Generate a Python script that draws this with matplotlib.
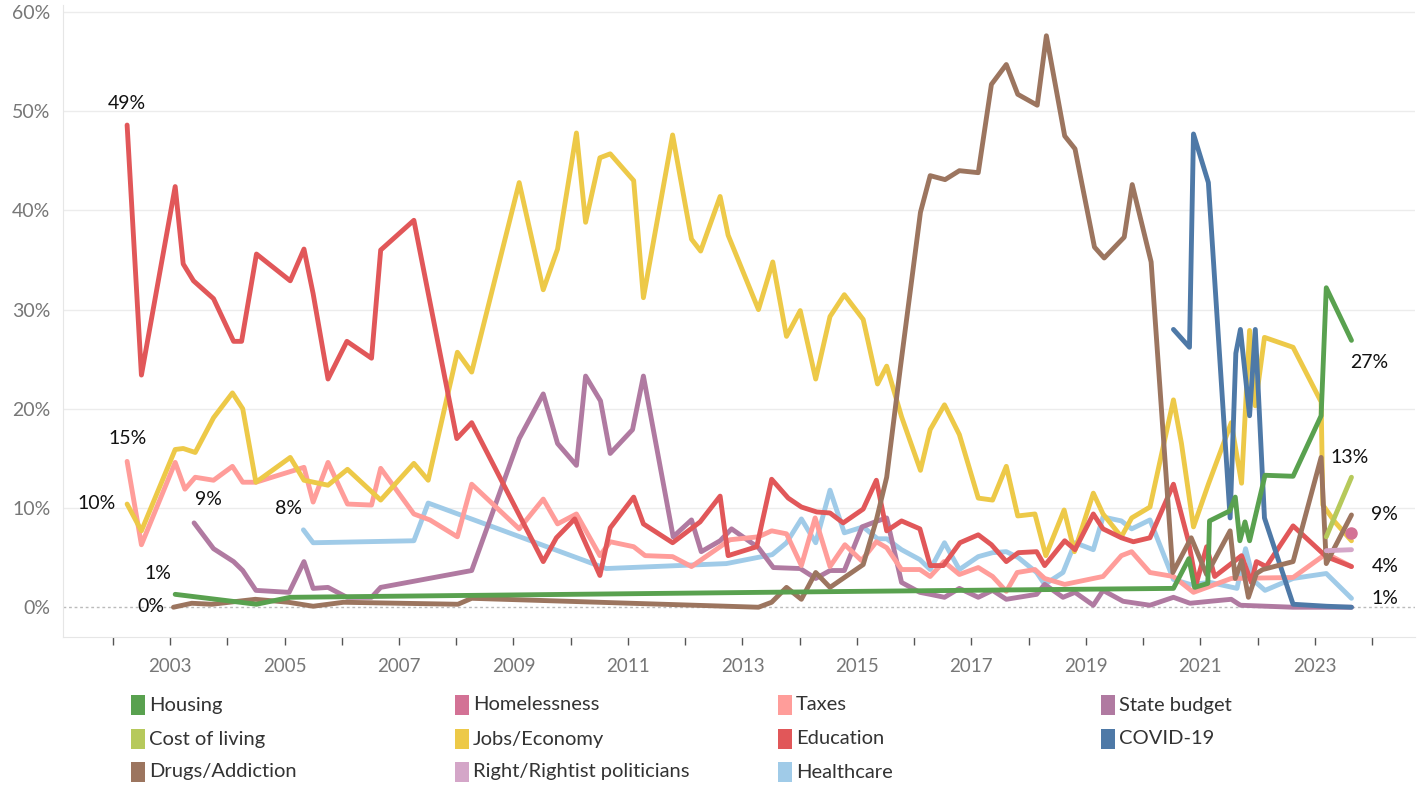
import matplotlib
matplotlib.use("Agg")
import matplotlib.pyplot as plt
from matplotlib.patches import Rectangle

plt.rcParams['font.family'] = ['Lato', 'DejaVu Sans']

# ---- data (share of respondents, %) -------------------------------------
edu_x = [2002.25, 2002.50, 2003.09, 2003.23, 2003.41, 2003.76, 2004.11, 2004.25, 2004.51, 2005.10,
         2005.34, 2005.50, 2005.76, 2006.09, 2006.52, 2006.68, 2007.26, 2008.01, 2008.27, 2009.52,
         2009.75, 2010.07, 2010.51, 2010.69, 2011.10, 2011.27, 2011.78, 2012.26, 2012.61, 2012.75,
         2013.25, 2013.51, 2013.80, 2014.03, 2014.30, 2014.53, 2014.76, 2015.11, 2015.34, 2015.52,
         2015.78, 2016.10, 2016.28, 2016.51, 2016.80, 2017.12, 2017.35, 2017.61, 2017.82, 2018.14,
         2018.28, 2018.63, 2018.81, 2019.13, 2019.30, 2019.62, 2019.83, 2020.12, 2020.53, 2020.79,
         2020.93, 2021.11, 2021.25, 2021.72, 2021.89, 2021.98, 2022.15, 2022.62, 2023.20, 2023.64]
edu_y = [48.6, 23.4, 42.4, 34.6, 32.9, 31.1, 26.8, 26.8, 35.6, 32.9,
         36.1, 31.6, 23.0, 26.8, 25.1, 36.0, 39.0, 17.0, 18.6, 4.6,
         7.0, 8.9, 3.2, 8.0, 11.1, 8.4, 6.5, 8.6, 11.2, 5.2,
         6.1, 12.9, 11.0, 10.1, 9.6, 9.5, 8.5, 9.9, 12.8, 7.7,
         8.7, 7.9, 4.2, 4.2, 6.5, 7.3, 6.3, 4.6, 5.5, 5.6,
         4.2, 6.7, 5.8, 9.4, 7.9, 7.0, 6.6, 7.0, 12.4, 6.7,
         2.4, 6.1, 3.1, 5.2, 2.5, 4.6, 4.1, 8.2, 5.1, 4.1]

jobs_x = [2002.25, 2002.50, 2003.09, 2003.23, 2003.44, 2003.76, 2004.09, 2004.27, 2004.50, 2005.10,
          2005.34, 2005.76, 2006.10, 2006.68, 2007.26, 2007.51, 2008.02, 2008.27, 2009.10, 2009.52,
          2009.77, 2010.10, 2010.26, 2010.51, 2010.69, 2011.10, 2011.27, 2011.78, 2012.11, 2012.27,
          2012.61, 2012.75, 2013.28, 2013.53, 2013.77, 2014.01, 2014.28, 2014.53, 2014.78, 2015.11,
          2015.36, 2015.52, 2015.78, 2016.11, 2016.28, 2016.53, 2016.79, 2017.12, 2017.37, 2017.61,
          2017.81, 2018.11, 2018.30, 2018.62, 2018.80, 2019.13, 2019.30, 2019.62, 2019.80, 2020.12,
          2020.53, 2020.67, 2020.88, 2021.14, 2021.54, 2021.72, 2021.86, 2021.96, 2022.12, 2022.62,
          2023.11, 2023.14, 2023.35, 2023.64]
jobs_y = [10.4, 7.7, 15.9, 16.0, 15.6, 19.1, 21.6, 20.0, 12.6, 15.1,
          12.8, 12.3, 13.9, 10.8, 14.5, 12.8, 25.7, 23.7, 42.8, 32.0,
          36.1, 47.8, 38.8, 45.3, 45.7, 43.0, 31.2, 47.6, 37.1, 35.9,
          41.4, 37.5, 30.0, 34.8, 27.3, 29.9, 23.0, 29.3, 31.5, 29.0,
          22.5, 24.3, 19.2, 13.8, 17.9, 20.4, 17.4, 11.0, 10.8, 14.2,
          9.2, 9.4, 5.2, 9.8, 5.6, 11.5, 9.4, 7.1, 9.0, 10.1,
          20.9, 16.5, 8.1, 12.4, 18.6, 12.5, 27.9, 20.3, 27.2, 26.2,
          20.7, 10.3, 8.6, 6.7]

drugs_x = [2003.06, 2003.38, 2003.73, 2004.49, 2005.07, 2005.50, 2006.03, 2008.03, 2008.27, 2013.28,
           2013.51, 2013.77, 2014.03, 2014.28, 2014.53, 2015.11, 2015.34, 2015.52, 2015.76, 2016.11,
           2016.28, 2016.54, 2016.79, 2017.12, 2017.35, 2017.61, 2017.81, 2018.15, 2018.31, 2018.63,
           2018.81, 2019.15, 2019.32, 2019.67, 2019.81, 2020.14, 2020.52, 2020.84, 2021.11, 2021.52,
           2021.61, 2021.72, 2021.84, 2021.98, 2022.09, 2022.62, 2023.11, 2023.20, 2023.64]
drugs_y = [0.0, 0.4, 0.3, 0.8, 0.5, 0.1, 0.5, 0.3, 0.9, 0.0,
           0.5, 2.0, 0.8, 3.5, 2.0, 4.3, 8.8, 13.1, 24.2, 39.8,
           43.5, 43.1, 44.0, 43.8, 52.7, 54.7, 51.7, 50.6, 57.6, 47.5,
           46.2, 36.3, 35.2, 37.3, 42.6, 34.8, 3.5, 7.0, 3.3, 7.7,
           2.9, 4.7, 1.0, 3.4, 3.8, 4.6, 15.1, 4.4, 9.3]

covid_x = [2020.53, 2020.81, 2020.88, 2021.14, 2021.52, 2021.62, 2021.70, 2021.86, 2021.96, 2022.12,
           2022.62, 2023.20, 2023.64]
covid_y = [28.0, 26.2, 47.7, 42.8, 9.0, 25.6, 28.0, 19.3, 28.0, 9.0,
           0.3, 0.1, 0.0]

housing_x = [2003.09, 2004.51, 2005.10, 2010.00, 2015.00, 2020.53, 2020.80, 2020.90, 2021.13, 2021.16,
             2021.51, 2021.61, 2021.69, 2021.78, 2021.86, 2022.13, 2022.62, 2023.11, 2023.20, 2023.64]
housing_y = [1.3, 0.3, 1.0, 1.3, 1.6, 1.9, 4.9, 2.0, 2.4, 8.7,
             9.7, 11.1, 6.7, 8.6, 6.7, 13.3, 13.2, 19.3, 32.2, 26.9]

taxes_x = [2002.25, 2002.50, 2003.09, 2003.26, 2003.44, 2003.76, 2004.09, 2004.27, 2004.50, 2005.34,
           2005.50, 2005.76, 2006.10, 2006.52, 2006.68, 2007.26, 2007.54, 2008.02, 2008.27, 2009.10,
           2009.52, 2009.77, 2010.10, 2010.51, 2010.69, 2011.10, 2011.30, 2011.78, 2012.11, 2012.61,
           2012.78, 2013.28, 2013.51, 2013.77, 2014.03, 2014.27, 2014.53, 2014.79, 2015.08, 2015.34,
           2015.52, 2015.78, 2016.10, 2016.28, 2016.52, 2016.79, 2017.12, 2017.37, 2017.61, 2017.80,
           2018.11, 2018.28, 2018.63, 2019.13, 2019.30, 2019.62, 2019.80, 2020.12, 2020.53, 2020.88,
           2021.54, 2022.62, 2023.20, 2023.64]
taxes_y = [14.7, 6.3, 14.6, 11.9, 13.1, 12.8, 14.2, 12.6, 12.6, 14.1,
           10.6, 14.6, 10.4, 10.3, 14.0, 9.4, 8.8, 7.1, 12.4, 7.9,
           10.9, 8.4, 9.4, 5.2, 6.6, 6.1, 5.2, 5.1, 4.1, 6.1,
           6.8, 7.1, 7.7, 7.4, 4.2, 9.0, 4.1, 6.3, 4.7, 6.6,
           6.0, 3.8, 3.8, 3.1, 4.6, 3.3, 4.0, 3.1, 1.6, 3.5,
           3.8, 2.9, 2.3, 2.9, 3.1, 5.2, 5.6, 3.5, 3.1, 1.5,
           2.9, 3.0, 5.4, 4.1]

health_x = [2005.33, 2005.50, 2007.26, 2007.51, 2010.62, 2012.72, 2013.25, 2013.52, 2013.77, 2014.03,
            2014.28, 2014.53, 2014.78, 2015.11, 2015.36, 2015.52, 2015.78, 2016.10, 2016.28, 2016.53,
            2016.79, 2017.12, 2017.37, 2017.61, 2017.82, 2018.14, 2018.28, 2018.60, 2018.81, 2019.13,
            2019.30, 2019.62, 2019.80, 2020.12, 2020.53, 2020.82, 2021.17, 2021.64, 2021.79, 2021.93,
            2022.13, 2022.62, 2023.20, 2023.64]
health_y = [7.8, 6.5, 6.7, 10.5, 3.9, 4.4, 5.0, 5.3, 6.5, 8.9,
            6.5, 11.8, 7.5, 8.1, 6.9, 6.9, 5.8, 4.8, 3.8, 6.5,
            3.8, 5.1, 5.5, 5.6, 5.0, 3.5, 2.3, 3.5, 6.5, 5.8,
            9.1, 8.7, 7.9, 8.8, 2.8, 2.3, 2.5, 1.9, 5.9, 2.7,
            1.7, 2.9, 3.4, 0.9]

budget_x = [2003.42, 2003.76, 2004.11, 2004.27, 2004.50, 2005.08, 2005.34, 2005.50, 2005.76, 2006.09,
            2006.52, 2006.68, 2008.27, 2009.10, 2009.52, 2009.77, 2010.10, 2010.26, 2010.52, 2010.69,
            2011.08, 2011.27, 2011.79, 2012.11, 2012.28, 2012.61, 2012.81, 2013.28, 2013.54, 2014.01,
            2014.28, 2014.53, 2014.78, 2015.09, 2015.36, 2015.52, 2015.78, 2016.10, 2016.28, 2016.53,
            2016.79, 2017.12, 2017.37, 2017.61, 2017.82, 2018.14, 2018.28, 2018.60, 2018.81, 2019.13,
            2019.30, 2019.65, 2020.12, 2020.53, 2020.82, 2021.17, 2021.54, 2021.70, 2022.62, 2023.64]
budget_y = [8.5, 5.9, 4.6, 3.7, 1.7, 1.5, 4.6, 1.9, 2.0, 1.0,
            1.0, 2.0, 3.7, 17.0, 21.5, 16.5, 14.3, 23.3, 20.8, 15.5,
            17.9, 23.3, 7.1, 8.8, 5.6, 6.7, 7.9, 6.0, 4.0, 3.9,
            2.9, 3.7, 3.7, 8.1, 8.7, 9.0, 2.5, 1.5, 1.3, 1.0,
            1.9, 1.0, 1.7, 0.8, 1.0, 1.3, 2.3, 1.0, 1.5, 0.2,
            1.7, 0.6, 0.2, 1.0, 0.4, 0.6, 0.8, 0.2, 0.0, 0.0]

col_x = [2023.20, 2023.64]
col_y = [7.1, 13.1]

right_x = [2023.20, 2023.64]
right_y = [5.7, 5.8]

homeless_x = [2023.64]
homeless_y = [7.5]

# legend order (row-wise, as in the picture)
legend_rows = [["Housing", "Homelessness", "Taxes", "State budget"],
               ["Cost of living", "Jobs/Economy", "Education", "COVID-19"],
               ["Drugs/Addiction", "Right/Rightist politicians", "Healthcare"]]

colors = {
    "Housing": "#59a14f",
    "Homelessness": "#d37295",
    "Taxes": "#ff9d9a",
    "State budget": "#b07aa1",
    "Cost of living": "#b6c95b",
    "Jobs/Economy": "#edc948",
    "Education": "#e15759",
    "COVID-19": "#4e79a7",
    "Drugs/Addiction": "#9c755f",
    "Right/Rightist politicians": "#d4a6c8",
    "Healthcare": "#a0cbe8",
}

series = [
    ("Healthcare", health_x, health_y),
    ("State budget", budget_x, budget_y),
    ("Taxes", taxes_x, taxes_y),
    ("Jobs/Economy", jobs_x, jobs_y),
    ("Education", edu_x, edu_y),
    ("COVID-19", covid_x, covid_y),
    ("Drugs/Addiction", drugs_x, drugs_y),
    ("Right/Rightist politicians", right_x, right_y),
    ("Cost of living", col_x, col_y),
    ("Housing", housing_x, housing_y),
]

W, H = 1424, 786
fig = plt.figure(figsize=(W / 100, H / 100), dpi=100)
ax = fig.add_axes([63 / W, 1 - 637 / H, (1415 - 63) / W, (637 - 5) / H])

for name, xs, ys in series:
    ax.plot(xs, ys, color=colors[name], lw=3.5, solid_joinstyle="round",
            solid_capstyle="round", zorder=3)
ax.plot(homeless_x, homeless_y, "o", color=colors["Homelessness"], ms=8, zorder=4)

ax.set_xlim(2001.13, 2024.75)
ax.set_ylim(-3.0, 60.7)

# grid
for v in range(10, 70, 10):
    ax.axhline(v, color="#ececec", lw=1, zorder=1)
ax.axhline(0, color="#bbbbbb", lw=1, ls=(0, (2, 2)), zorder=1)

ax.set_yticks(range(0, 70, 10))
ax.set_yticklabels([f"{v}%" for v in range(0, 70, 10)])
ax.tick_params(axis="y", length=0, pad=9, labelsize=14, labelcolor="#777777")

years = list(range(2002, 2025))
ax.set_xticks(years)
ax.set_xticklabels([str(y) if y % 2 == 1 else "" for y in years])
ax.tick_params(axis="x", length=6, width=1, color="#555555", pad=9,
               labelsize=13.5, labelcolor="#777777", direction="out")

for s in ["top", "right"]:
    ax.spines[s].set_visible(False)
for s in ["left", "bottom"]:
    ax.spines[s].set_color("#e6e6e6")

# data labels at the ends of lines
def label(txt, x, y, dx, dy, ha="center"):
    ax.annotate(txt, (x, y), xytext=(dx, dy), textcoords="offset pixels",
                ha=ha, va="center", fontsize=14, color="#111111", zorder=6)

label("49%", edu_x[0], edu_y[0], 0, 22)
label("15%", taxes_x[0], taxes_y[0], 0, 23)
label("10%", jobs_x[0], jobs_y[0], -31, 1)
label("9%", budget_x[0], budget_y[0], 14, 23)
label("8%", health_x[0], health_y[0], -15, 21)
label("1%", housing_x[0], housing_y[0], -17, 21)
label("0%", drugs_x[0], drugs_y[0], -23, 1)

label("27%", housing_x[-1], housing_y[-1], 18, -22)
label("13%", col_x[-1], col_y[-1], -2, 20)
label("9%", drugs_x[-1], drugs_y[-1], 20, 0, ha="left")
label("4%", edu_x[-1], edu_y[-1], 20, 0, ha="left")
label("1%", health_x[-1], health_y[-1], 20, 0, ha="left")

# legend, laid out in rows like the original
col_px = [131, 455, 778, 1101]
row_px = [705, 739, 772]
for r, row in enumerate(legend_rows):
    for c, name in enumerate(row):
        x0 = col_px[c]
        y0 = row_px[r]
        fig.add_artist(Rectangle((x0 / W, 1 - (y0 + 10) / H), 14 / W, 20 / H,
                                 transform=fig.transFigure, color=colors[name], lw=0))
        fig.text((x0 + 18) / W, 1 - y0 / H, name, ha="left", va="center",
                 fontsize=14.5, color="#333333")

fig.savefig("out.png", dpi=100)
